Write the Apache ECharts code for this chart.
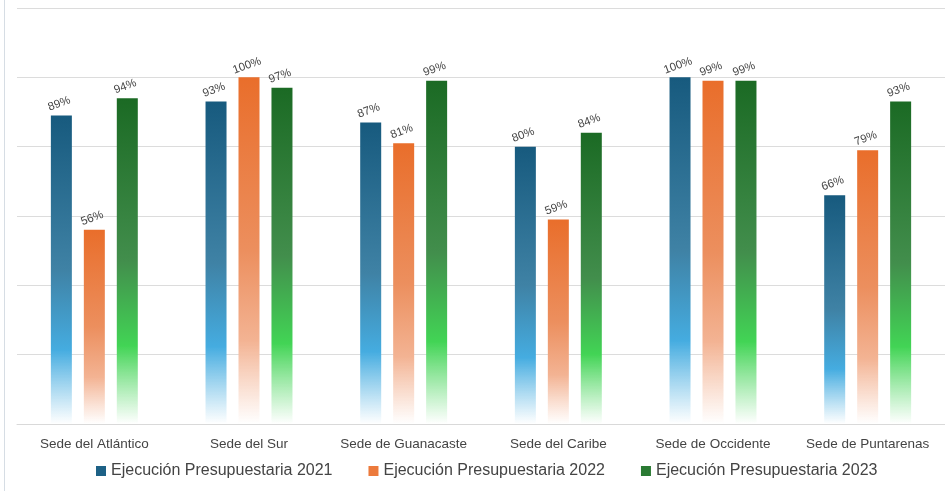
<!DOCTYPE html>
<html><head><meta charset="utf-8">
<script src="https://cdn.jsdelivr.net/npm/echarts@6/dist/echarts.min.js"></script>
<style>html,body{margin:0;padding:0;background:#fff;}#c{width:945px;height:491px;}</style>
</head><body><div id="c"></div>
<script>
const categories = ['Sede del Atlántico','Sede del Sur','Sede de Guanacaste','Sede del Caribe','Sede de Occidente','Sede de Puntarenas'];
const seriesNames = ['Ejecución Presupuestaria 2021','Ejecución Presupuestaria 2022','Ejecución Presupuestaria 2023'];
const values2021 = [89, 93, 87, 80, 100, 66];
const values2022 = [56, 100, 81, 59, 99, 79];
const values2023 = [94, 97, 99, 84, 99, 93];

function grad(top, mid, bright, bottom){
  return new echarts.graphic.LinearGradient(0,0,0,1,[
    {offset:0,color:top},{offset:0.5,color:mid},{offset:0.76,color:bright},{offset:1,color:bottom}
  ]);
}
const fills = [
  grad('#175a7e','#3f82a5','#45ace0','rgba(255,255,255,0.9)'),
  grad('#e96e2b','#ec8f5e','#f3b393','rgba(255,255,255,0.9)'),
  grad('#1b6a24','#428e4c','#42d455','rgba(255,255,255,0.9)')
];
const legendColors = ['#1d6186','#ec7a3c','#2a7a33'];
const data = [values2021, values2022, values2023];

const chart = echarts.init(document.getElementById('c'));
chart.setOption({
  animation:false,
  grid:{left:17,right:0,top:8,bottom:67},
  legend:{
    bottom:7, left:91, itemWidth:10, itemHeight:10, itemGap:36, icon:'rect',
    textStyle:{fontFamily:'Liberation Sans',fontSize:16,color:'#444'},
    data: seriesNames.map((n,i)=>({name:n,itemStyle:{color:legendColors[i]}}))
  },
  xAxis:{
    type:'category', data:categories,
    axisLine:{lineStyle:{color:'#d9d9d9'}}, axisTick:{show:false},
    axisLabel:{interval:0,fontFamily:'Liberation Sans',fontSize:13.5,color:'#444',margin:13}
  },
  yAxis:{
    type:'value', min:0, max:120, interval:20,
    axisLabel:{show:false}, axisLine:{show:false}, axisTick:{show:false},
    splitLine:{lineStyle:{color:'#dcdcdc'}}
  },
  graphic:[{type:'rect',shape:{x:4,y:0,width:1,height:491},style:{fill:'#d6dde4'}}],
  series: data.map((d,i)=>({
    name:seriesNames[i], type:'bar', data:d,
    barWidth:21, barGap:'57%', barCategoryGap:'45%',
    itemStyle:{color:fills[i]},
    label:{show:true,position:'top',rotate:20,formatter:'{c}%',fontFamily:'Liberation Sans',fontSize:11.5,color:'#444',distance:6}
  }))
});
</script></body></html>
